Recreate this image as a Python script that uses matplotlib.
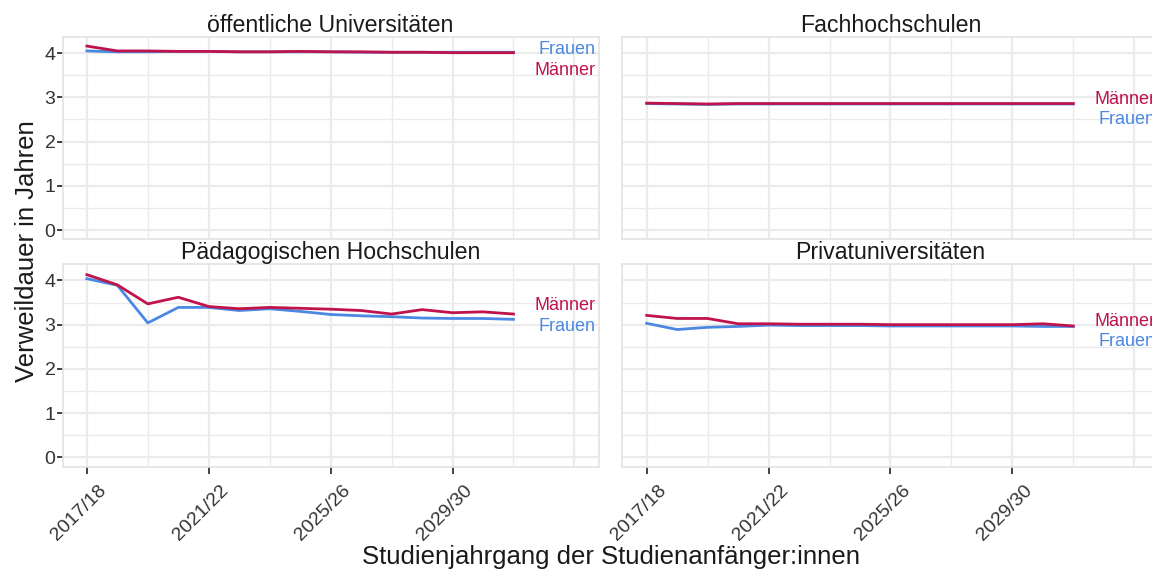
import numpy as np
import matplotlib.pyplot as plt
from matplotlib.transforms import ScaledTranslation

plt.rcParams['font.family'] = ['Liberation Sans', 'DejaVu Sans']

# Studienjahrgänge 2017/18 bis 2031/32
years = np.arange(2017, 2032)

titles = ['öffentliche Universitäten', 'Fachhochschulen',
          'Pädagogischen Hochschulen', 'Privatuniversitäten']

uni_maenner = [4.16, 4.05, 4.05, 4.04, 4.04, 4.03, 4.03, 4.04, 4.03, 4.03, 4.02, 4.02, 4.01, 4.01, 4.01]
uni_frauen = [4.05, 4.03, 4.03, 4.04, 4.04, 4.03, 4.03, 4.03, 4.03, 4.02, 4.02, 4.02, 4.02, 4.02, 4.02]

fh_maenner = [2.87, 2.86, 2.85, 2.86, 2.86, 2.86, 2.86, 2.86, 2.86, 2.86, 2.86, 2.86, 2.86, 2.86, 2.86]
fh_frauen = [2.86, 2.85, 2.84, 2.85, 2.85, 2.85, 2.85, 2.85, 2.85, 2.85, 2.85, 2.85, 2.85, 2.85, 2.85]

ph_maenner = [4.13, 3.90, 3.47, 3.62, 3.41, 3.36, 3.39, 3.37, 3.35, 3.32, 3.24, 3.34, 3.27, 3.29, 3.24]
ph_frauen = [4.04, 3.89, 3.04, 3.39, 3.39, 3.32, 3.36, 3.30, 3.23, 3.20, 3.18, 3.15, 3.14, 3.14, 3.12]

priv_maenner = [3.21, 3.14, 3.14, 3.02, 3.02, 3.01, 3.01, 3.01, 3.00, 3.00, 3.00, 3.00, 3.00, 3.02, 2.97]
priv_frauen = [3.03, 2.89, 2.94, 2.96, 2.99, 2.98, 2.98, 2.98, 2.97, 2.97, 2.97, 2.97, 2.97, 2.96, 2.96]

series = [(uni_frauen, uni_maenner), (fh_frauen, fh_maenner),
          (ph_frauen, ph_maenner), (priv_frauen, priv_maenner)]

# y-Position der Beschriftungen (Frauen, Männer) je Panel
label_y = [(4.075, 3.60), (2.50, 2.955), (2.95, 3.43), (2.61, 3.07)]

col_f = '#4a88e2'
col_m = '#c0134b'
grid_col = '#ebebeb'

fig = plt.figure(figsize=(11.52, 5.73), dpi=100)
W, H = 1152, 573
lefts = [62.5, 622.3]
tops = [36.7, 264.0]
pw, ph = 536.3, 202.5

axes = []
for i in range(4):
    r, c = divmod(i, 2)
    l = lefts[c] / W
    b = 1 - (tops[r] + ph) / H
    ax = fig.add_axes([l, b, pw / W, ph / H])
    axes.append(ax)

for i, ax in enumerate(axes):
    r, c = divmod(i, 2)
    fr, ma = series[i]
    ax.set_xlim(2016.2, 2033.8)
    ax.set_ylim(-0.208, 4.372)

    for x in range(2017, 2034, 4):
        ax.axvline(x, color=grid_col, lw=1.6, zorder=0)
    for x in range(2019, 2034, 4):
        ax.axvline(x, color=grid_col, lw=1.0, zorder=0)
    for y in range(0, 5):
        ax.axhline(y, color=grid_col, lw=1.6, zorder=0)
    for y in np.arange(0.5, 4.5, 1):
        ax.axhline(y, color=grid_col, lw=1.0, zorder=0)

    ax.plot(years, fr, color=col_f, lw=2.0, zorder=2)
    ax.plot(years, ma, color=col_m, lw=2.0, zorder=3)

    ax.text(2033.7, label_y[i][0], 'Frauen', color=col_f, fontsize=13,
            ha='right', va='center')
    ax.text(2033.7, label_y[i][1], 'Männer', color=col_m, fontsize=13,
            ha='right', va='center')

    ax.set_title(titles[i], fontsize=16.7, color='#1a1a1a', pad=3)

    for s in ax.spines.values():
        s.set_color('#e3e3e3')
        s.set_linewidth(1.2)

    ax.set_yticks(range(0, 5))
    ax.set_xticks(range(2017, 2030, 4))
    ax.tick_params(axis='both', color='#333333', width=1.3, length=4,
                   labelsize=14, labelcolor='#333333', pad=1)
    if c == 0:
        ax.set_yticklabels([str(v) for v in range(0, 5)])
    else:
        ax.tick_params(axis='y', left=False, labelleft=False)
    if r == 1:
        ax.set_xticklabels([f'{y}/{(y + 1) % 100:02d}' for y in range(2017, 2030, 4)],
                           rotation=45, ha='right', va='top', rotation_mode='anchor')
        ax.tick_params(axis='x', length=5, pad=3)
        shift = ScaledTranslation(11 / 100, -4 / 100, fig.dpi_scale_trans)
        for lab in ax.get_xticklabels():
            lab.set_transform(lab.get_transform() + shift)
    else:
        ax.tick_params(axis='x', bottom=False, labelbottom=False)

fig.text(27 / W, 1 - 251 / H, 'Verweildauer in Jahren', fontsize=18.5,
         rotation=90, ha='center', va='center', color='#1a1a1a')
fig.text(611 / W, 1 - 557 / H, 'Studienjahrgang der Studienanfänger:innen',
         fontsize=18.5, ha='center', va='center', color='#1a1a1a')

fig.savefig('out.png', dpi=100)
